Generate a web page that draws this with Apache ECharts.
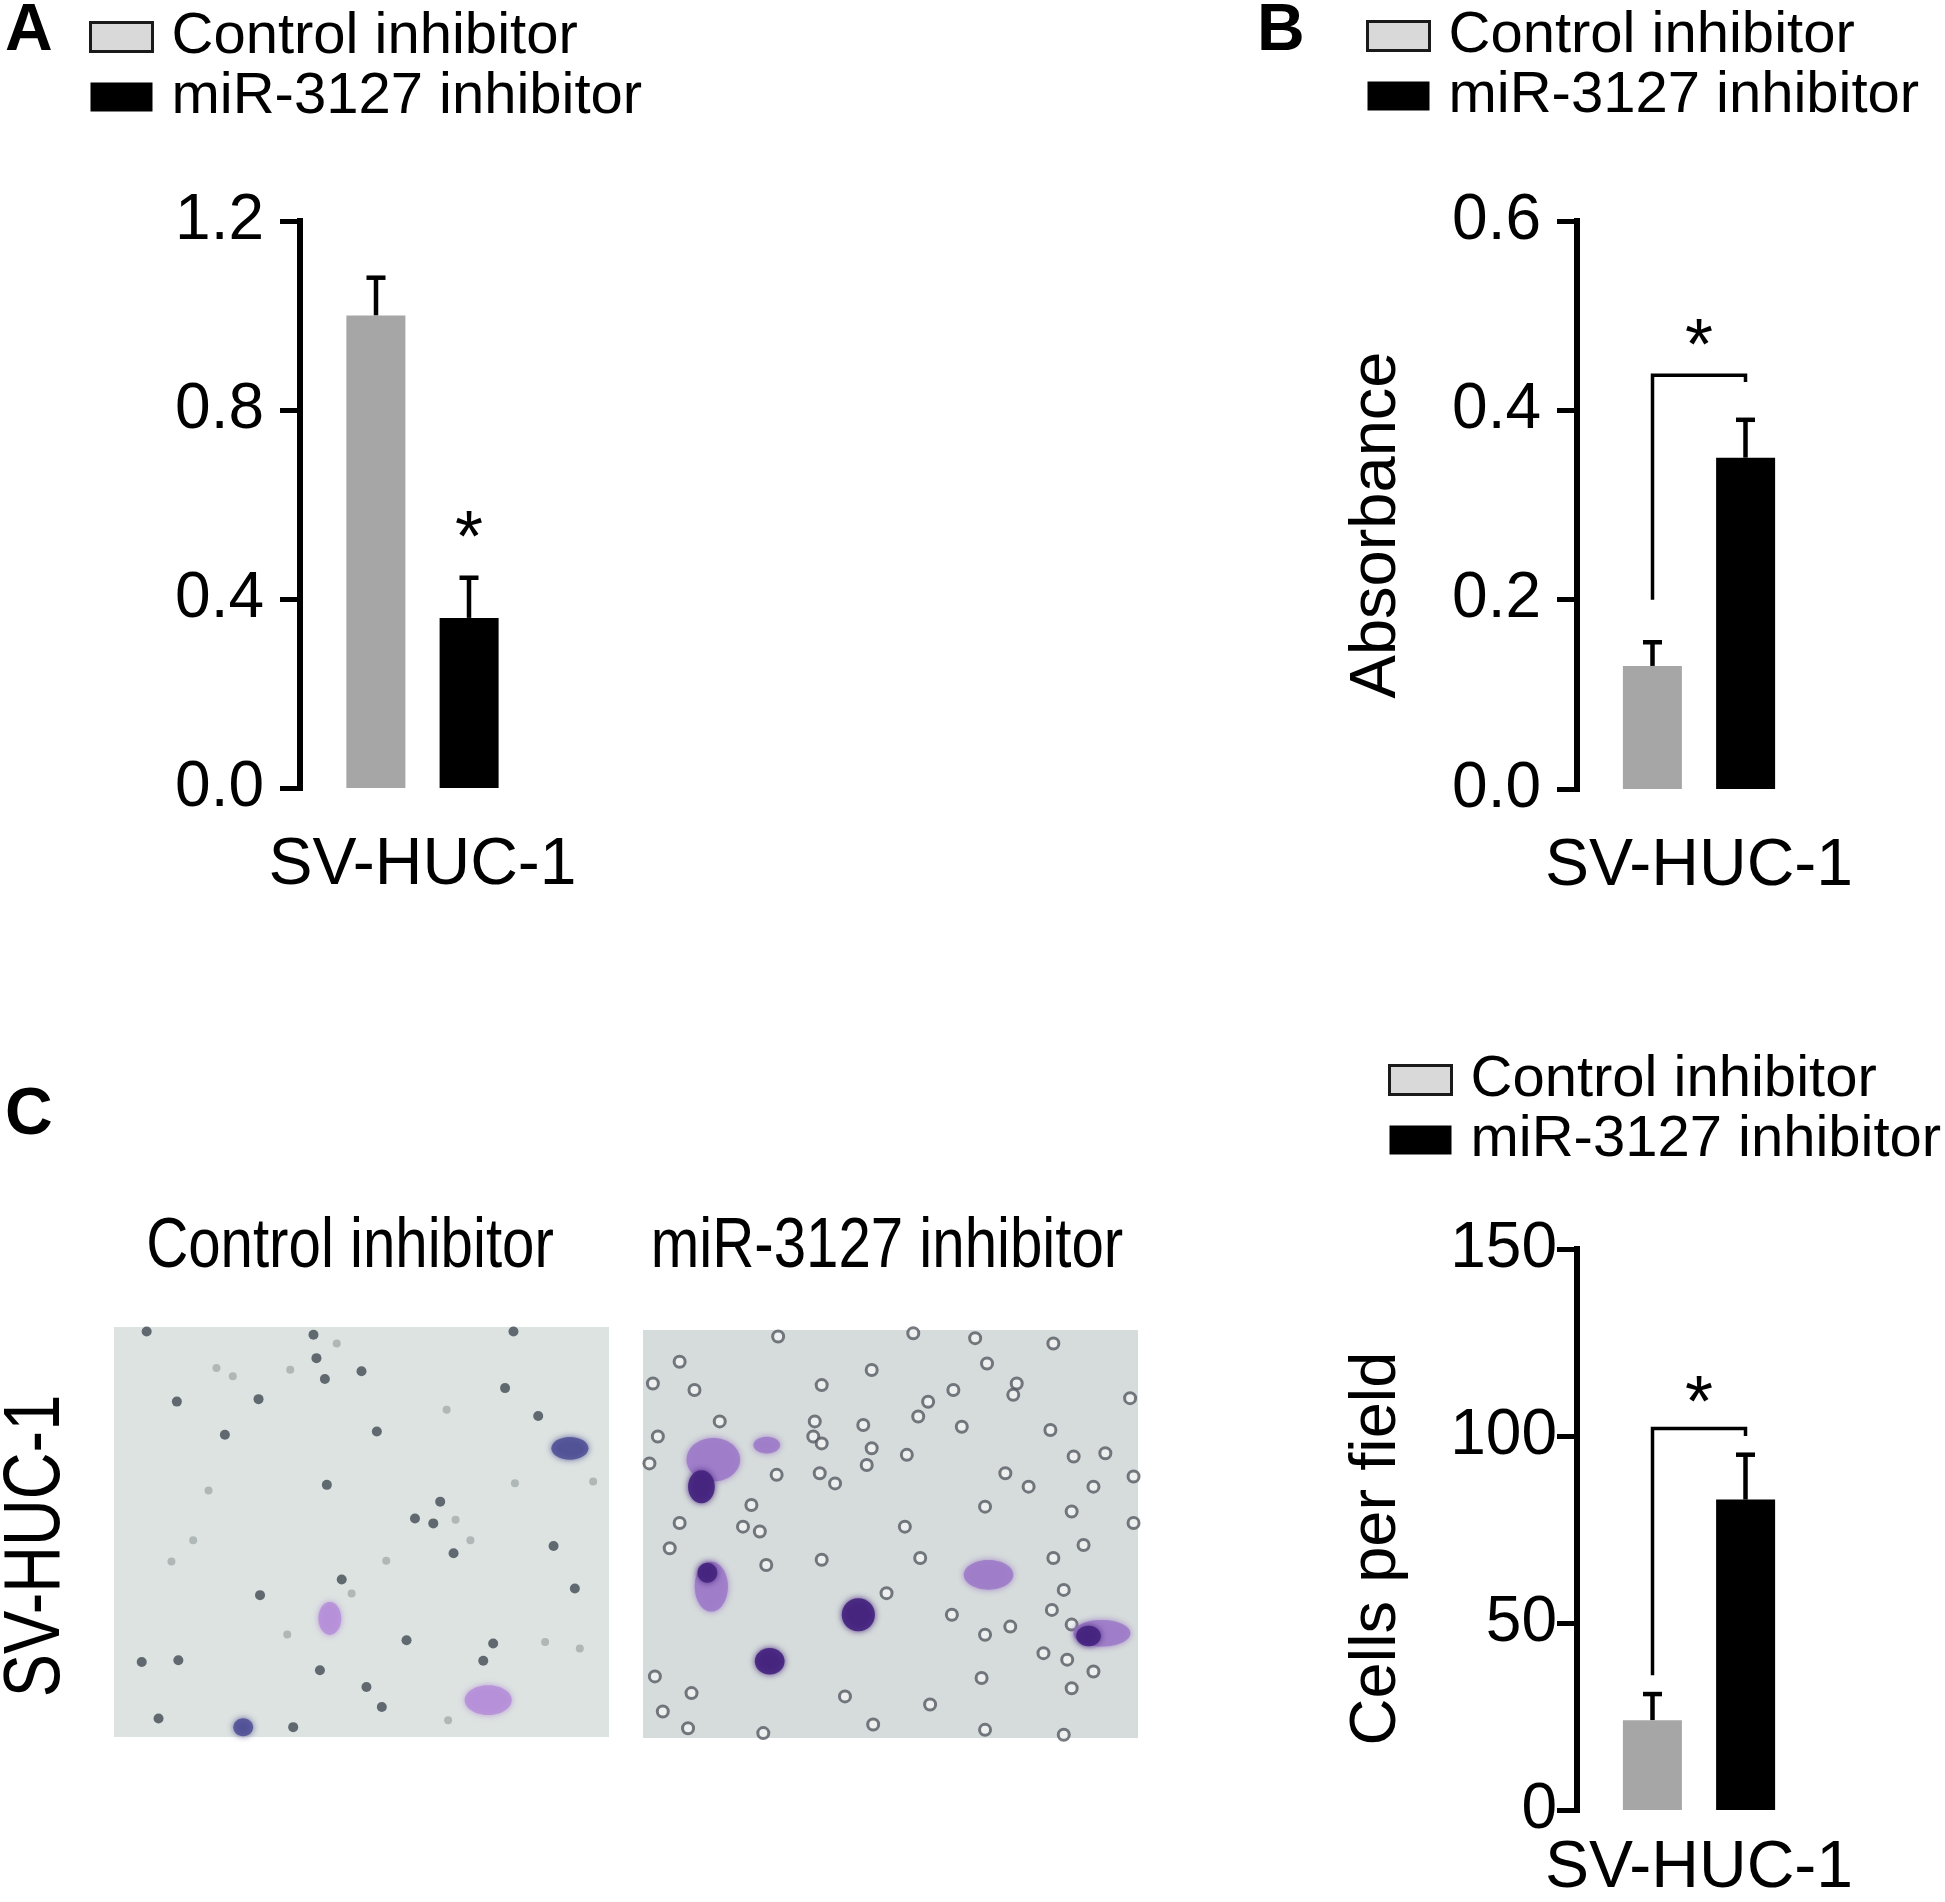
<!DOCTYPE html>
<html>
<head>
<meta charset="utf-8">
<script src="https://cdn.jsdelivr.net/npm/echarts@6/dist/echarts.min.js"></script>
<style>
html,body{margin:0;padding:0;background:#fff;}
#chart{width:1945px;height:1902px;}
</style>
</head>
<body>
<div id="chart"></div>
<script>
// ---------------- data ----------------
const categories = ['SV-HUC-1'];
const groupNames = ['Control inhibitor', 'miR-3127 inhibitor'];

// Panel A (relative expression)
const panelA_means = [1.00, 0.36];
const panelA_errs = [0.08, 0.085];
const panelA_star = 0.555;          // star above miR-3127 bar
const panelA_ticks = [0, 0.4, 0.8, 1.2];

// Panel B (Absorbance)
const panelB_means = [0.13, 0.35];
const panelB_errs = [0.025, 0.04];
const panelB_bracket = [0.20, 0.437, 0.43]; // left foot, top, right foot
const panelB_star = 0.48;
const panelB_ticks = [0, 0.2, 0.4, 0.6];

// Panel C (Cells per field)
const panelC_means = [24, 83];
const panelC_errs = [7, 12];
const panelC_bracket = [36, 102, 100];
const panelC_star = 112;
const panelC_ticks = [0, 50, 100, 150];

// Micrographs (field coordinates 0-100, y from top)
const micro1Nuclei = [[6.6,1.1],[40.3,1.9],[80.7,1.1],[40.9,7.6],[50.0,10.8],[42.6,12.7],[29.2,17.6],[12.7,18.2],[79.0,14.9],[85.7,21.7],[22.4,26.3],[53.1,25.5],[43.0,38.5],[65.9,42.6],[60.8,46.7],[64.5,47.9],[68.6,55.2],[88.8,53.4],[46.0,61.6],[29.5,65.4],[93.1,63.8],[59.1,76.4],[76.6,77.2],[74.6,81.4],[5.6,81.7],[13.0,81.3],[41.6,83.7],[51.0,87.8],[54.1,92.7],[9.0,95.5],[36.2,97.6]];
const micro1Faint = [[20.7,10.0],[35.6,10.4],[67.2,20.2],[19.1,39.9],[11.6,57.2],[87.1,76.8],[94.1,78.4],[96.8,37.7],[67.5,95.9],[81.0,38.1],[24.0,12.0],[45.0,4.0],[55.0,57.0],[69.0,47.0],[35.0,75.0],[16.0,52.0],[72.0,52.0],[48.0,65.0]];
const micro1StainedLight = [[43.6,71.1,4.6,8.0],[75.6,91.0,9.5,7.3]];
const micro1StainedDark = [[92.1,29.6,7.5,5.6],[26.1,97.6,4.0,4.4]];

const micro2Rings = [[7.4,7.8],[27.3,1.6],[54.6,0.8],[67.1,2.0],[82.9,3.3],[2.0,13.1],[10.4,14.7],[36.1,13.5],[46.2,9.8],[69.5,8.2],[75.5,13.1],[74.8,15.9],[62.7,14.7],[57.6,17.6],[55.6,21.2],[98.4,16.7],[34.7,22.4],[15.5,22.4],[44.5,23.3],[64.4,23.7],[82.3,24.5],[3.0,26.1],[34.4,26.1],[36.1,27.8],[46.2,29.0],[53.3,30.6],[93.4,30.2],[87.0,31.0],[45.2,33.1],[1.3,32.7],[27.0,35.5],[35.7,35.1],[38.8,37.6],[73.2,35.1],[77.9,38.4],[91.0,38.4],[99.1,35.9],[69.1,43.3],[86.6,44.5],[21.9,42.9],[20.2,48.2],[23.6,49.4],[52.9,48.2],[7.4,47.3],[99.1,47.3],[5.4,53.5],[89.0,52.7],[82.9,55.9],[56.0,55.9],[36.1,56.3],[24.9,57.6],[49.2,64.5],[85.0,63.7],[62.4,69.8],[82.6,68.6],[74.2,72.7],[69.1,74.7],[86.6,72.2],[80.9,79.2],[85.7,80.8],[91.0,83.7],[68.4,85.3],[2.4,84.9],[9.8,89.0],[40.8,89.8],[58.0,91.8],[86.6,87.8],[4.0,93.5],[46.5,96.7],[24.3,98.8],[85.0,99.2],[69.1,98.0],[9.1,97.6]];
const micro2StainedLight = [[14.2,31.8,10.8,10.6],[25.0,28.2,5.4,4.1],[13.8,62.9,6.7,12.2],[69.8,60.0,10.0,7.3],[92.7,74.3,11.5,6.5]];
const micro2StainedDark = [[11.8,38.4,5.4,8.1],[13.0,59.5,4.0,4.9],[43.5,69.8,6.7,8.1],[25.6,81.2,6.0,6.5],[90.0,75.0,5.0,5.0]];

// ---------------- styling ----------------
const FONT = 'Liberation Sans, Arial, Helvetica, sans-serif';
const GRAY = '#a6a6a6';
const BLACK = '#000000';
const BAR_W = 59;
const BAR_OFFSET = 46.5;
const CAP = 19;

function yAxisCfg(gridIndex, ticks, decimals, margin, name, nameGap, namePad) {
  const cfg = {
    gridIndex: gridIndex, type: 'value',
    min: ticks[0], max: ticks[ticks.length - 1], interval: ticks[1] - ticks[0],
    axisLine: { show: true, lineStyle: { color: '#000', width: 6, cap: 'square' } },
    axisTick: { show: true, length: 20, lineStyle: { color: '#000', width: 5 } },
    axisLabel: { fontSize: 64, color: '#000', fontFamily: FONT, margin: margin,
      formatter: function (v) { return v.toFixed(decimals); } },
    splitLine: { show: false }
  };
  if (name) {
    cfg.name = name;
    cfg.nameLocation = 'middle';
    cfg.nameRotate = 90;
    cfg.nameGap = nameGap;
    cfg.nameTextStyle = { fontSize: 65, color: '#000', fontFamily: FONT, padding: [0, namePad, 0, 0] };
  }
  return cfg;
}
function xAxisCfg(gridIndex, margin) {
  return {
    gridIndex: gridIndex, type: 'category', data: categories,
    axisLine: { show: false }, axisTick: { show: false },
    axisLabel: { fontSize: 66, color: '#000', fontFamily: FONT, margin: margin }
  };
}
function legendCfg(left, top) {
  return {
    orient: 'vertical', left: left, top: top, padding: 0,
    itemWidth: 62, itemHeight: 29, itemGap: 2, icon: 'rect', selectedMode: false,
    textStyle: { fontSize: 58, color: '#000', fontFamily: FONT, padding: [0, 0, 0, 14] },
    data: [
      { name: groupNames[0], itemStyle: { color: '#d9d9d9', borderColor: '#1a1a1a', borderWidth: 3 } },
      { name: groupNames[1], itemStyle: { color: '#000', borderWidth: 0 } }
    ]
  };
}
function barSeries(axisIdx, means) {
  return means.map(function (v, i) {
    return {
      type: 'bar', name: groupNames[i], xAxisIndex: axisIdx, yAxisIndex: axisIdx,
      data: [v], barWidth: BAR_W, barGap: '58%', silent: true,
      itemStyle: { color: i === 0 ? GRAY : BLACK }
    };
  });
}
function errorSeries(axisIdx, means, errs) {
  return {
    type: 'custom', xAxisIndex: axisIdx, yAxisIndex: axisIdx, silent: true, z: 1,
    data: means.map(function (m, i) { return [0, i, m, errs[i]]; }),
    renderItem: function (params, api) {
      const k = api.value(1), m = api.value(2), e = api.value(3);
      const base = api.coord([0, m]);
      const top = api.coord([0, m + e]);
      const x = base[0] + (k === 0 ? -BAR_OFFSET : BAR_OFFSET);
      return { type: 'group', children: [
        { type: 'line', shape: { x1: x, y1: base[1], x2: x, y2: top[1] }, style: { stroke: '#000', lineWidth: 4.5 } },
        { type: 'line', shape: { x1: x - CAP / 2, y1: top[1], x2: x + CAP / 2, y2: top[1] }, style: { stroke: '#000', lineWidth: 4.5 } }
      ]};
    }
  };
}
function starText(x, y) {
  return { type: 'text', style: { text: '*', x: x, y: y + 15, align: 'center', verticalAlign: 'middle',
    fontSize: 72, fontFamily: FONT, fill: '#000' } };
}
function bracketSeries(axisIdx, bracket, star) {
  return {
    type: 'custom', xAxisIndex: axisIdx, yAxisIndex: axisIdx, silent: true,
    data: [[0, bracket[0], bracket[1], bracket[2], star]],
    renderItem: function (params, api) {
      const l = api.coord([0, api.value(1)]);
      const t = api.coord([0, api.value(2)]);
      const r = api.coord([0, api.value(3)]);
      const s = api.coord([0, api.value(4)]);
      const x0 = l[0] - BAR_OFFSET, x1 = l[0] + BAR_OFFSET;
      return { type: 'group', children: [
        { type: 'polyline', shape: { points: [[x0, l[1]], [x0, t[1]], [x1, t[1]], [x1, r[1]]] },
          style: { stroke: '#000', lineWidth: 3.5, fill: null } },
        starText((x0 + x1) / 2, s[1])
      ]};
    }
  };
}
function starOnlySeries(axisIdx, barIndex, star) {
  return {
    type: 'custom', xAxisIndex: axisIdx, yAxisIndex: axisIdx, silent: true,
    data: [[0, barIndex, star]],
    renderItem: function (params, api) {
      const p = api.coord([0, api.value(2)]);
      const x = p[0] + (api.value(1) === 0 ? -BAR_OFFSET : BAR_OFFSET);
      return starText(x, p[1]);
    }
  };
}
function cellSeries(axisIdx, data, color, opacity) {
  return {
    type: 'custom', xAxisIndex: axisIdx, yAxisIndex: axisIdx, silent: true, z: 3,
    data: data,
    renderItem: function (params, api) {
      const c = api.coord([api.value(0), api.value(1)]);
      const s = api.size([api.value(2), api.value(3)]);
      return { type: 'ellipse', shape: { cx: c[0], cy: c[1], rx: s[0] / 2, ry: s[1] / 2 },
        style: { fill: color, opacity: opacity, shadowBlur: 6, shadowColor: color } };
    }
  };
}

const option = {
  animation: false,
  backgroundColor: '#ffffff',
  textStyle: { fontFamily: FONT },
  grid: [
    { left: 300, top: 221, width: 245, height: 567 },
    { left: 1577, top: 221, width: 244, height: 568 },
    { left: 1577, top: 1249, width: 244, height: 566 },
    { left: 114, top: 1327, width: 495, height: 410, show: true, backgroundColor: '#dde3e1', borderWidth: 0 },
    { left: 643, top: 1330, width: 495, height: 408, show: true, backgroundColor: '#d6dcdb', borderWidth: 0 }
  ],
  xAxis: [
    xAxisCfg(0, 45), xAxisCfg(1, 45), xAxisCfg(2, 26),
    { gridIndex: 3, type: 'value', min: 0, max: 100, show: false },
    { gridIndex: 4, type: 'value', min: 0, max: 100, show: false }
  ],
  yAxis: [
    yAxisCfg(0, panelA_ticks, 1, 36),
    yAxisCfg(1, panelB_ticks, 1, 36, 'Absorbance', 167, 40),
    yAxisCfg(2, panelC_ticks, 0, 20, 'Cells per field', 167, 38),
    { gridIndex: 3, type: 'value', min: 0, max: 100, inverse: true, show: false },
    { gridIndex: 4, type: 'value', min: 0, max: 100, inverse: true, show: false }
  ],
  legend: [legendCfg(89, 8), legendCfg(1366, 7), legendCfg(1388, 1051)],
  graphic: [
    { type: 'text', style: { text: 'A', x: 5, y: 32, verticalAlign: 'middle', fontSize: 66, fontWeight: 'bold', fontFamily: FONT, fill: '#000' } },
    { type: 'text', style: { text: 'B', x: 1257, y: 32, verticalAlign: 'middle', fontSize: 66, fontWeight: 'bold', fontFamily: FONT, fill: '#000' } },
    { type: 'text', style: { text: 'C', x: 5, y: 1116, verticalAlign: 'middle', fontSize: 66, fontWeight: 'bold', fontFamily: FONT, fill: '#000' } },
    { type: 'text', x: 350, y: 1247, scaleX: 0.82, style: { text: 'Control inhibitor', x: 0, y: 0, align: 'center', verticalAlign: 'middle', fontSize: 71, fontFamily: FONT, fill: '#000' } },
    { type: 'text', x: 887, y: 1247, scaleX: 0.82, style: { text: 'miR-3127 inhibitor', x: 0, y: 0, align: 'center', verticalAlign: 'middle', fontSize: 71, fontFamily: FONT, fill: '#000' } },
    { type: 'text', x: 37, y: 1546, rotation: Math.PI / 2, scaleX: 0.82, style: { text: 'SV-HUC-1', x: 0, y: 0, align: 'center', verticalAlign: 'middle', fontSize: 79, fontFamily: FONT, fill: '#000' } }
  ],
  series: [].concat(
    barSeries(0, panelA_means), [errorSeries(0, panelA_means, panelA_errs), starOnlySeries(0, 1, panelA_star)],
    barSeries(1, panelB_means), [errorSeries(1, panelB_means, panelB_errs), bracketSeries(1, panelB_bracket, panelB_star)],
    barSeries(2, panelC_means), [errorSeries(2, panelC_means, panelC_errs), bracketSeries(2, panelC_bracket, panelC_star)],
    [
      { type: 'scatter', xAxisIndex: 3, yAxisIndex: 3, silent: true, data: micro1Faint, symbolSize: 8,
        itemStyle: { color: '#a4adad', opacity: 0.8 } },
      { type: 'scatter', xAxisIndex: 3, yAxisIndex: 3, silent: true, data: micro1Nuclei, symbolSize: 10,
        itemStyle: { color: '#4a535c', opacity: 0.85 } },
      cellSeries(3, micro1StainedLight, '#b58ed8', 0.85),
      cellSeries(3, micro1StainedDark, '#4f4f95', 0.85),
      { type: 'scatter', xAxisIndex: 4, yAxisIndex: 4, silent: true, data: micro2Rings, symbolSize: 11,
        itemStyle: { color: '#f3f5f4', borderColor: '#555a62', borderWidth: 3 } },
      cellSeries(4, micro2StainedLight, '#9f7cc9', 0.9),
      cellSeries(4, micro2StainedDark, '#45237e', 0.9)
    ]
  )
};

const chart = echarts.init(document.getElementById('chart'), null, { renderer: 'canvas' });
chart.setOption(option);
</script>
</body>
</html>
